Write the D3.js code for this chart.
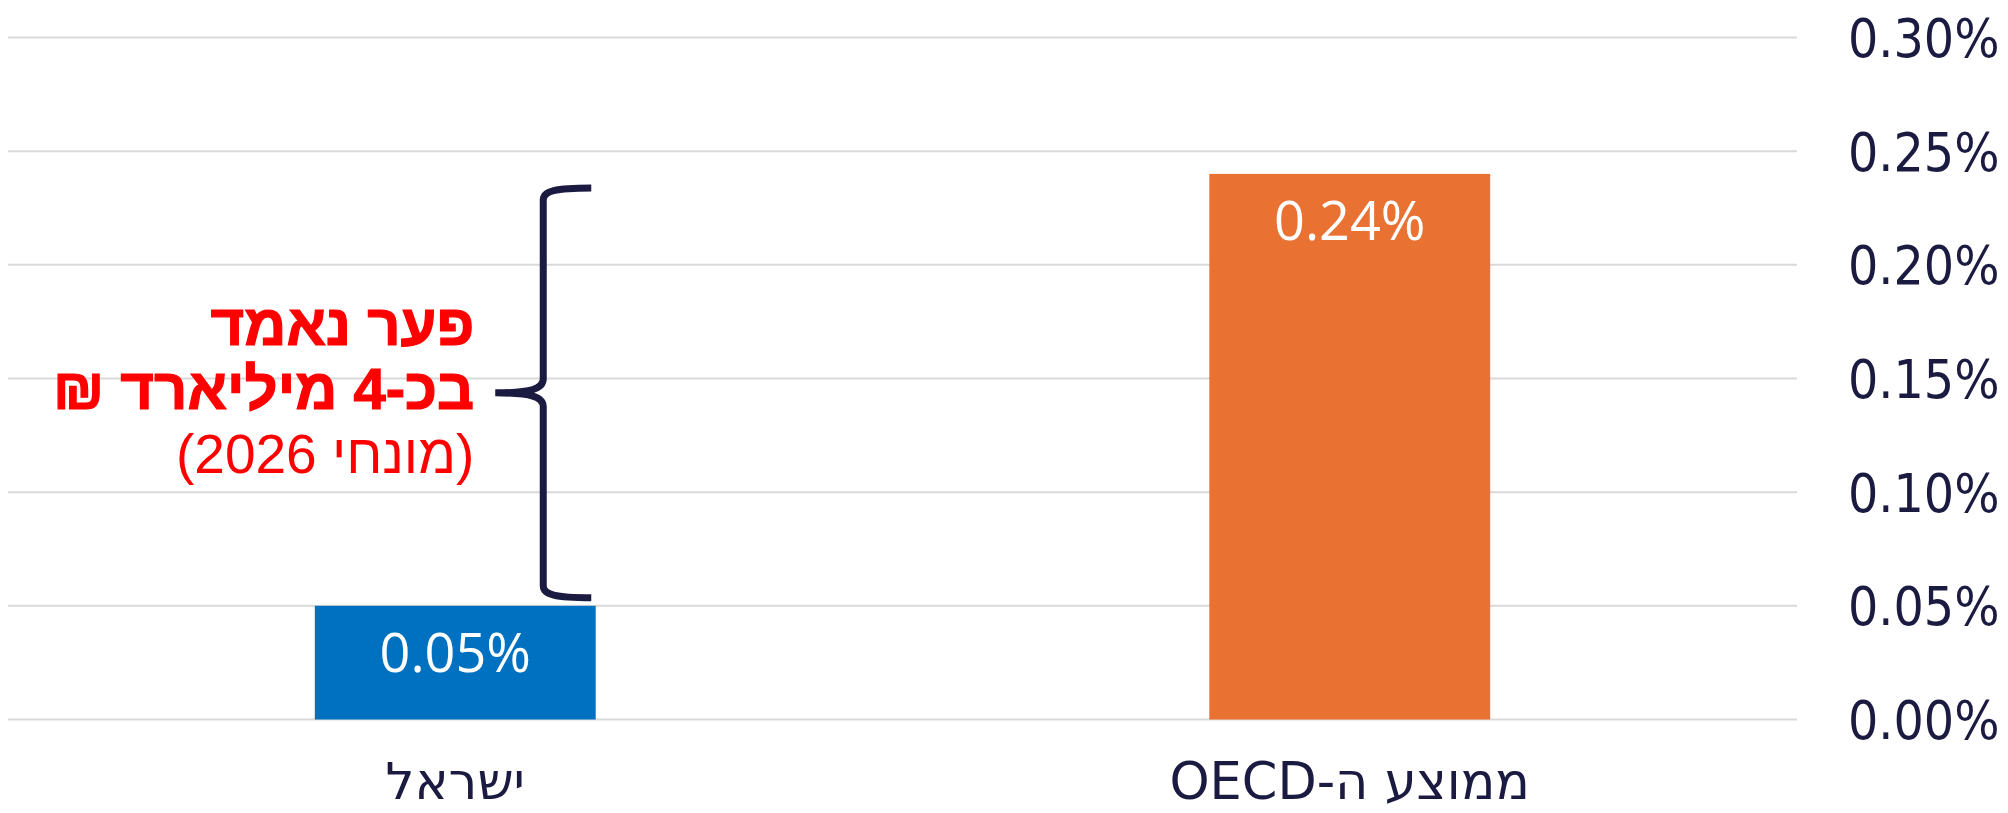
<!DOCTYPE html>
<html>
<head>
<meta charset="utf-8">
<script src="https://cdn.jsdelivr.net/npm/d3@7"></script>
<style>
  html, body { margin: 0; padding: 0; background: #ffffff; }
  svg { display: block; }
</style>
</head>
<body>
<svg id="chart" width="2008" height="813"></svg>
<script>
// ---- data ----
const categories = ["ישראל", "ממוצע ה-OECD"];
const values = [0.0005, 0.0024];
const valueLabels = ["0.05%", "0.24%"];
const barColors = ["#0070C0", "#E97132"];
const tickValues = [0, 0.0005, 0.0010, 0.0015, 0.0020, 0.0025, 0.0030];
const tickLabels = ["0.00%", "0.05%", "0.10%", "0.15%", "0.20%", "0.25%", "0.30%"];
const annotationLines = ["פער נאמד", "בכ-4 מיליארד ₪", "(מונחי 2026)"];

// ---- layout ----
const svg = d3.select("#chart");
const plotLeft = 8, plotRight = 1797, plotTop = 37.5, plotBottom = 719.5;
const ink = "#1B1A40";

const x = d3.scaleBand().domain(categories).range([plotLeft, plotRight]).paddingInner(0.686).paddingOuter(0.343);
const y = d3.scaleLinear().domain([0, 0.0030]).range([plotBottom, plotTop]);

// gridlines
svg.append("g").selectAll("line").data(tickValues).join("line")
  .attr("x1", plotLeft).attr("x2", plotRight)
  .attr("y1", d => y(d)).attr("y2", d => y(d))
  .attr("stroke", "#D9D9D9").attr("stroke-width", 2);

// right axis labels
const axis = d3.axisRight(y).tickValues(tickValues).tickSize(0).tickPadding(51)
  .tickFormat((d, i) => tickLabels[i]);
const gAxis = svg.append("g").attr("transform", `translate(${plotRight},0)`).call(axis);
gAxis.select(".domain").remove();
gAxis.selectAll("text")
  .attr("fill", ink)
  .style("font-family", "'DejaVu Sans Condensed', 'DejaVu Sans', sans-serif")
  .style("font-stretch", "condensed")
  .style("font-size", "53px")
  .attr("dy", "0.36em");

// bars
svg.append("g").selectAll("rect").data(categories).join("rect")
  .attr("x", d => x(d))
  .attr("width", x.bandwidth())
  .attr("y", (d, i) => y(values[i]))
  .attr("height", (d, i) => y(0) - y(values[i]))
  .attr("fill", (d, i) => barColors[i]);

// bar value labels
svg.append("g").selectAll("text").data(categories).join("text")
  .attr("x", d => x(d) + x.bandwidth() / 2)
  .attr("y", (d, i) => y(values[i]) + 66)
  .attr("text-anchor", "middle")
  .attr("fill", "#ffffff")
  .style("font-family", "'Open Sans', sans-serif")
  .style("font-size", "54px")
  .text((d, i) => valueLabels[i]);

// category labels
svg.append("g").selectAll("text").data(categories).join("text")
  .attr("x", d => x(d) + x.bandwidth() / 2)
  .attr("y", 799)
  .attr("text-anchor", "middle")
  .style("direction", "rtl")
  .style("unicode-bidi", "embed")
  .attr("fill", ink)
  .style("font-family", "'DejaVu Sans', sans-serif")
  .style("font-size", "51px")
  .text(d => d);

// brace between bars
const braceX = x(categories[0]) + x.bandwidth() / 2 + 88;
const braceTop = y(values[1]) + 14;
const braceBot = y(values[0]) - 8;
const braceMid = (braceTop + braceBot) / 2;
const hook = 48, tip = 48;
const p = d3.path();
p.moveTo(braceX + hook, braceTop);
p.bezierCurveTo(braceX + 12, braceTop, braceX, braceTop + 3, braceX, braceTop + 12);
p.lineTo(braceX, braceMid - 14);
p.bezierCurveTo(braceX, braceMid - 4, braceX - 12, braceMid, braceX - tip, braceMid);
p.moveTo(braceX - tip, braceMid);
p.bezierCurveTo(braceX - 12, braceMid, braceX, braceMid + 4, braceX, braceMid + 14);
p.lineTo(braceX, braceBot - 12);
p.bezierCurveTo(braceX, braceBot - 3, braceX + 12, braceBot, braceX + hook, braceBot);
svg.append("path").attr("d", p.toString())
  .attr("fill", "none").attr("stroke", ink).attr("stroke-width", 7);

// annotation text
const annX = braceX - tip - 21;
svg.append("g").selectAll("text").data(annotationLines).join("text")
  .attr("x", annX)
  .attr("y", (d, i) => braceMid - 48 + i * 64)
  .attr("text-anchor", "start")
  .style("direction", "rtl")
  .style("unicode-bidi", "embed")
  .attr("fill", "#FF0000")
  .attr("stroke", (d, i) => i < 2 ? "#FF0000" : "none")
  .attr("stroke-width", 1.2)
  .style("font-family", "'Liberation Sans', Arial, sans-serif")
  .style("font-weight", (d, i) => i < 2 ? "bold" : "normal")
  .style("font-size", (d, i) => i < 2 ? "58px" : "55px")
  .text(d => d);
</script>
</body>
</html>
